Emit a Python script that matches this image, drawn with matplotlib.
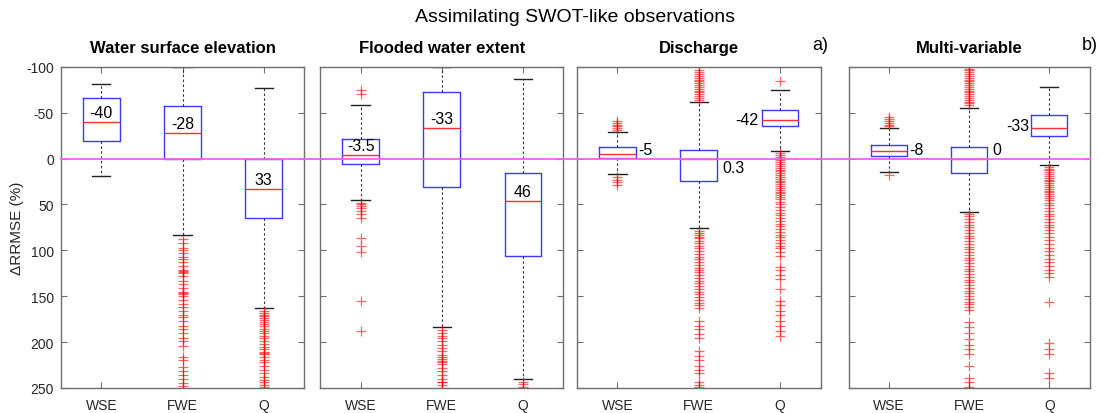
import matplotlib
matplotlib.use("Agg")
import matplotlib.pyplot as plt
from matplotlib.lines import Line2D

plt.rcParams["font.family"] = ["Liberation Sans", "DejaVu Sans"]
plt.rcParams["axes.unicode_minus"] = False

# ---------------------------------------------------------------- data
categories = ["WSE", "FWE", "Q"]
panel_titles = ["Water surface elevation", "Flooded water extent",
                "Discharge", "Multi-variable"]
panel_tags = [None, None, "a)", "b)"]

# box statistics per assimilated variable: [whislo, q1, median, q3, whishi]
stats_wse = [[-81, -66, -40, -19, 19],
             [-100, -57, -28, 0, 83.5],
             [-77, 0, 33, 65, 163]]
stats_fwe = [[-58, -21, -3.5, 6, 45],
             [-100, -72, -33, 31, 184],
             [-87, 16, 46, 106, 240]]
stats_q = [[-29, -13, -5, -1, 17],
           [-62, -9.4, 0.3, 24.7, 76],
           [-75, -53, -42, -35, -8]]
stats_multi = [[-33, -15, -8, -2.5, 15],
               [-55.5, -13, 0, 16, 58.5],
               [-78, -47, -33, -25, 7]]

# outliers per assimilated variable
fliers_wse = [
    [],
    [88, 92, 97, 100, 103, 107, 110, 113, 117, 122, 123, 124, 125, 128, 133,
     137, 141, 145, 147, 148, 150, 154, 158, 162, 166, 170, 173, 177, 182,
     186, 190, 195, 199, 204, 216, 219, 227, 231, 236, 240, 245, 248],
    [166, 168, 170, 172, 174, 176, 178, 180, 183, 186, 188, 190, 193, 196,
     199, 202, 205, 208, 211, 212, 213, 216, 219, 222, 226, 230, 234, 238,
     241, 244, 247, 249],
]
fliers_fwe = [
    [-75, -70, 48, 50, 52, 54, 57, 61, 65, 87, 95, 102, 155, 188],
    [187, 190, 193, 196, 199, 203, 206, 210, 214, 216, 218, 221, 222, 224,
     228, 232, 236, 240, 243, 244, 247, 250],
    [243, 246, 249],
]
fliers_q = [
    [-41, -39, -37, -35, -33, -31, 20, 23, 26, 29],
    [-96, -94, -92, -90, -88, -86, -84, -82, -80, -78, -76, -74, -72, -70,
     -68, -66, -64, 79, 81, 83, 85, 87, 90, 92, 95, 98, 101, 104, 107, 110,
     113, 116, 119, 121, 124, 127, 130, 133, 136, 139, 142, 145, 148, 151,
     154, 157, 160, 163, 177, 182, 186, 191, 196, 210, 215, 220, 226, 230,
     234, 244, 247, 249],
    [-84, -6, -4, -2, 0, 2, 4, 6, 8, 10, 12, 14, 16, 18, 20, 22, 24, 26, 28,
     30, 32, 34, 36, 38, 40, 42, 44, 47, 50, 53, 56, 59, 62, 65, 68, 71, 74,
     77, 80, 83, 86, 89, 92, 95, 98, 102, 106, 118, 122, 127, 131, 142, 155,
     160, 166, 171, 177, 182, 188, 193],
]
fliers_multi = [
    [-45, -43, -41, -39, -37, -35, 18],
    [-100, -98, -96, -94, -92, -90, -88, -86, -84, -82, -80, -78, -76, -74,
     -72, -70, -68, -66, -64, -62, -60, -58, 60, 63, 66, 69, 72, 75, 78, 81,
     84, 87, 90, 93, 96, 99, 102, 105, 108, 111, 114, 117, 120, 123, 126,
     129, 132, 135, 138, 141, 144, 147, 150, 153, 156, 159, 162, 165, 178,
     184, 190, 197, 203, 208, 213, 226, 239, 244, 249],
    [9, 11, 13, 15, 17, 19, 21, 23, 25, 27, 29, 31, 33, 35, 37, 39, 41, 43,
     45, 48, 51, 54, 57, 60, 63, 66, 69, 72, 75, 78, 81, 85, 89, 93, 97, 101,
     105, 109, 113, 117, 121, 125, 129, 156, 201, 207, 213, 234, 239],
]

yticks = [-100, -50, 0, 50, 100, 150, 200, 250]

panel_stats = [stats_wse, stats_fwe, stats_q, stats_multi]
panel_fliers = [fliers_wse, fliers_fwe, fliers_q, fliers_multi]

# ---------------------------------------------------------------- layout
W, H = 1099, 414
ax_lefts_px = [60.7, 320.0, 576.7, 848.5]
ax_widths_px = [243.6, 243.4, 244.0, 241.0]
ax_top_px, ax_bottom_px = 67.7, 389.0

# median label placement: (x offset, y offset in data units, alignment)
label_layout = [
    [(0, -10.5, "center")] * 3,
    [(0, -10.5, "center")] * 3,
    [(0.26, -5.3, "left"), (0.29, 9.3, "left"), (-0.27, -1.0, "right")],
    [(0.26, -1.3, "left"), (0.29, -9.3, "left"), (-0.25, -2.7, "right")],
]

frame_color = "#6e6e6e"
text_color = "#262626"

fig = plt.figure(figsize=(W / 100, H / 100), dpi=100)

axes = []
for p in range(4):
    ax = fig.add_axes([ax_lefts_px[p] / W, 1 - ax_bottom_px / H,
                       ax_widths_px[p] / W, (ax_bottom_px - ax_top_px) / H])
    axes.append(ax)

    bxp_stats = []
    for i, (s, fl) in enumerate(zip(panel_stats[p], panel_fliers[p])):
        bxp_stats.append(dict(whislo=s[0], q1=s[1], med=s[2], q3=s[3],
                              whishi=s[4], fliers=fl, label=categories[i]))

    ax.bxp(bxp_stats, positions=[1, 2, 3], widths=0.45,
           showfliers=True,
           boxprops=dict(color="#3a3aff", linewidth=1.0),
           medianprops=dict(color="#ff3030", linewidth=1.0),
           whiskerprops=dict(color="#333333", linewidth=0.8,
                             linestyle=(0, (2.2, 2.2))),
           capprops=dict(color="#222222", linewidth=1.0),
           capwidths=0.225,
           flierprops=dict(marker="+", markeredgecolor="red",
                           markerfacecolor="none", markersize=7,
                           markeredgewidth=0.9, alpha=0.6, linestyle="none"))

    for i, s in enumerate(panel_stats[p]):
        dx, dy, ha = label_layout[p][i]
        ax.text(1 + i + dx, s[2] + dy, "%g" % s[2], ha=ha, va="center",
                fontsize=11.5, color="black", zorder=5)

    ax.set_xlim(0.5, 3.5)
    ax.set_ylim(250, -100)
    ax.set_yticks(yticks)
    ax.set_xticks([1, 2, 3])
    ax.set_xticklabels(categories)
    ax.tick_params(direction="in", top=True, right=True, length=4,
                   width=0.8, color=frame_color, labelsize=10,
                   labelcolor=text_color)
    ax.tick_params(axis="x", pad=7)
    ax.tick_params(axis="y", pad=5)
    if p > 0:
        ax.set_yticklabels([])
    for sp in ax.spines.values():
        sp.set_color(frame_color)
        sp.set_linewidth(1.0)

    ax.text(0.5, 1 + 19.0 / (ax_bottom_px - ax_top_px), panel_titles[p],
            transform=ax.transAxes, ha="center", va="center",
            fontsize=12, fontweight="bold", color="black")
    if panel_tags[p]:
        ax.text(1 - 8.0 / ax_widths_px[p],
                1 + 22.5 / (ax_bottom_px - ax_top_px), panel_tags[p],
                transform=ax.transAxes, ha="left", va="center",
                fontsize=13, color="black")

# zero reference line spanning all panels
x0 = fig.transFigure.inverted().transform(axes[0].transData.transform((0.5, 0)))
x1 = fig.transFigure.inverted().transform(axes[-1].transData.transform((3.5, 0)))
fig.add_artist(Line2D([x0[0], x1[0]], [x0[1], x1[1]], transform=fig.transFigure,
                      color="#ff5cf0", linewidth=1.3, zorder=10))

fig.text(17 / W, 1 - (ax_top_px + ax_bottom_px) / 2 / H, "ΔRRMSE (%)",
         rotation=90, ha="center", va="center", fontsize=11, color=text_color)
fig.text((ax_lefts_px[0] + ax_lefts_px[3] + ax_widths_px[3]) / 2 / W,
         1 - 17 / H, "Assimilating SWOT-like observations",
         ha="center", va="center", fontsize=14, color="black")

fig.savefig("out.png", dpi=100)
